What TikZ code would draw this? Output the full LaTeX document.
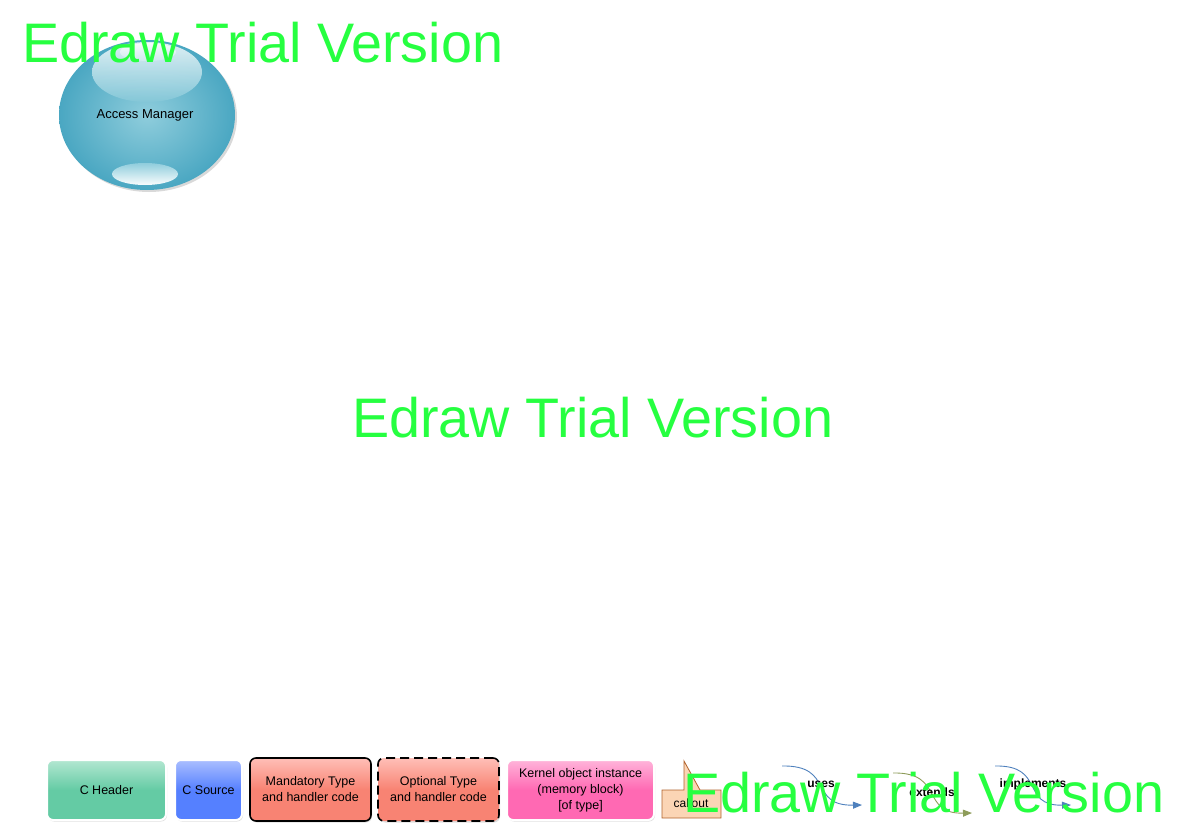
\documentclass[tikz,border=0pt]{standalone}
\usepackage{fontspec}
\setmainfont{Liberation Sans}
\usetikzlibrary{arrows.meta,shadows,shapes.geometric}
\definecolor{ballin}{HTML}{8FCDDC}
\definecolor{ballout}{HTML}{4AA7C2}
\definecolor{hdrtop}{HTML}{B3E7D1}
\definecolor{hdrbase}{HTML}{64CBA4}
\definecolor{srctop}{HTML}{AABEFF}
\definecolor{srcbase}{HTML}{5580FF}
\definecolor{redtop}{HTML}{FFBFB7}
\definecolor{redbase}{HTML}{F88373}
\definecolor{pinktop}{HTML}{FFB4DA}
\definecolor{pinkbase}{HTML}{FF69B3}
\definecolor{callfill}{HTML}{FBD5B5}
\definecolor{calldraw}{HTML}{B0622C}
\definecolor{usescol}{HTML}{4F81BD}
\definecolor{extcol}{HTML}{8E9C5A}
\definecolor{wmark}{RGB}{38,255,64}
\tikzset{
  legbox/.style={rounded corners=6pt, minimum height=60pt, align=center,
    font=\fontsize{12.5}{16}\selectfont, inner sep=0pt,
    drop shadow={opacity=0.25, shadow xshift=1pt, shadow yshift=-1.5pt}},
  whiteedge/.style={draw=white, line width=2pt},
  blackedge/.style={draw=black, line width=1.6pt, minimum height=63pt},
  conn/.style={line width=0.9pt, -{Triangle[length=9pt,width=7pt]}},
  connlabel/.style={font=\fontsize{12}{14}\selectfont\bfseries, inner sep=0pt},
  watermark/.style={text=wmark, font=\fontsize{55.7}{60}\selectfont, anchor=base west, inner sep=0pt}
}
\begin{document}
\begin{tikzpicture}[x=1pt,y=-1pt]
\useasboundingbox (0,0) rectangle (1188,840);
% Access Manager ball
\fill[black, opacity=0.15] (149,117) ellipse [x radius=88pt, y radius=75pt];
\shade[inner color=ballin, outer color=ballout] (147,115) ellipse [x radius=88pt, y radius=75pt];
\shade[top color=white!85!ballin, bottom color=ballin!85!ballout, opacity=0.9] (147,72) ellipse [x radius=55pt, y radius=30pt];
\shade[top color=white, bottom color=white!60!ballin, opacity=0.8] (148,52) ellipse [x radius=28pt, y radius=9pt];
\shade[top color=ballin, bottom color=white!95!ballin] (145,174) ellipse [x radius=33pt, y radius=11pt];
\node[font=\fontsize{13}{16}\selectfont, inner sep=0pt] (am) at (145,115) {Access Manager};
% legend boxes
\node[legbox, whiteedge, minimum width=119pt, top color=hdrtop, bottom color=hdrbase, middle color=hdrbase] (hdr) at (106.5,790) {C Header};
\node[legbox, whiteedge, minimum width=67pt, top color=srctop, bottom color=srcbase, middle color=srcbase] (src) at (208.5,790) {C Source};
\node[legbox, blackedge, minimum width=121pt, top color=redtop, bottom color=redbase, middle color=redbase] (mand) at (310.5,789.5) {Mandatory Type\\and handler code};
\node[legbox, blackedge, dash pattern=on 9pt off 5pt, minimum width=121pt, top color=redtop, bottom color=redbase, middle color=redbase] (opt) at (438.5,789.5) {Optional Type\\and handler code};
\node[legbox, whiteedge, minimum width=147pt, top color=pinktop, bottom color=pinkbase, middle color=pinkbase] (kern) at (580.5,790) {Kernel object instance\\(memory block)\\{[}of type{]}};
% callout
\draw[fill=callfill, draw=calldraw, line width=0.8pt] (662,790) -- (684,790) -- (684,761) -- (700,790) -- (721,790) -- (721,818) -- (662,818) -- cycle;
\node[font=\fontsize{12}{14}\selectfont, inner sep=0pt] (call) at (691,803) {callout};
% connectors
\coordinate (u1) at (782,766);
\coordinate (u2) at (862,805);
\draw[conn, draw=usescol] (u1) .. controls (835,765) and (808,806) .. (u2);
\node[connlabel] (uses) at (821,784) {uses};
\coordinate (e1) at (893,773);
\coordinate (e2) at (972,813);
\draw[conn, draw=extcol] (e1) .. controls (945,772) and (920,814) .. (e2);
\node[connlabel] (ext) at (932,792) {extends};
\coordinate (i1) at (995,766);
\coordinate (i2) at (1071,805);
\draw[conn, draw=usescol] (i1) .. controls (1046,765) and (1020,806) .. (i2);
\node[connlabel] (impl) at (1033,784) {implements};
% watermarks
\node[watermark] (wm1) at (22,63) {Edraw Trial Version};
\node[watermark] (wm2) at (352,437) {Edraw Trial Version};
\node[watermark] (wm3) at (683,812) {Edraw Trial Version};
\end{tikzpicture}
\end{document}
